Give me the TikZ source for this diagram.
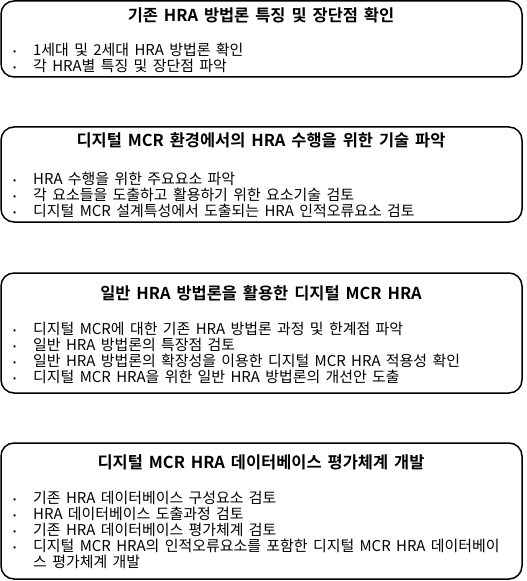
\documentclass[tikz,border=0pt]{standalone}
\usepackage{fontspec}
\setmainfont{Noto Sans CJK KR}[BoldFont={Noto Sans CJK KR Bold},WordSpace=1.6]
\usetikzlibrary{positioning}
\tikzset{box/.style={draw,line width=1.5bp,rounded corners=13bp},
         ttl/.style={font=\bfseries\fontsize{16.5}{18}\selectfont},
         lst/.style={font=\fontsize{15}{16}\selectfont,align=left,anchor=north west,inner sep=0pt}}
\newcommand{\bul}{\makebox[20bp][l]{\raisebox{1bp}{\fontsize{9}{9}\selectfont •}}}
\newcommand{\ind}{\hspace*{20bp}}

\begin{document}
\begin{tikzpicture}[x=1bp,y=-1bp]
	\useasboundingbox (0,0) rectangle (527,581);
	% box 1
	\draw [box] (1,1) rectangle (522,77);
	\node [ttl] (t1) at (261,15) {기존 HRA 방법론 특징 및 장단점 확인};
	\node [lst] (l1) at (13,43) {\bul 1세대 및 2세대 HRA 방법론 확인\\
		\bul 각 HRA별 특징 및 장단점 파악};
	% box 2
	\draw [box] (1,127) rectangle (522,222);
	\node [ttl] (t2) at (261,140) {디지털 MCR 환경에서의 HRA 수행을 위한 기술 파악};
	\node [lst] (l2) at (13,172) {\bul HRA 수행을 위한 주요요소 파악\\
		\bul 각 요소들을 도출하고 활용하기 위한 요소기술 검토\\
		\bul 디지털 MCR 설계특성에서 도출되는 HRA 인적오류요소 검토};
	% box 3
	\draw [box] (1,273) rectangle (522,393);
	\node [ttl] (t3) at (261,293) {일반 HRA 방법론을 활용한 디지털 MCR HRA};
	\node [lst] (l3) at (13,322) {\bul 디지털 MCR에 대한 기존 HRA 방법론 과정 및 한계점 파악\\
		\bul 일반 HRA 방법론의 특장점 검토\\
		\bul 일반 HRA 방법론의 확장성을 이용한 디지털 MCR HRA 적용성 확인\\
		\bul 디지털 MCR HRA을 위한 일반 HRA 방법론의 개선안 도출};
	% box 4
	\draw [box] (1,443) rectangle (522,579);
	\node [ttl] (t4) at (261,462) {디지털 MCR HRA 데이터베이스 평가체계 개발};
	\node [lst] (l4) at (13,491) {\bul 기존 HRA 데이터베이스 구성요소 검토\\
		\bul HRA 데이터베이스 도출과정 검토\\
		\bul 기존 HRA 데이터베이스 평가체계 검토\\
		\bul 디지털 MCR HRA의 인적오류요소를 포함한 디지털 MCR HRA 데이터베이\\
		\ind 스 평가체계 개발};
\end{tikzpicture}
\end{document}
